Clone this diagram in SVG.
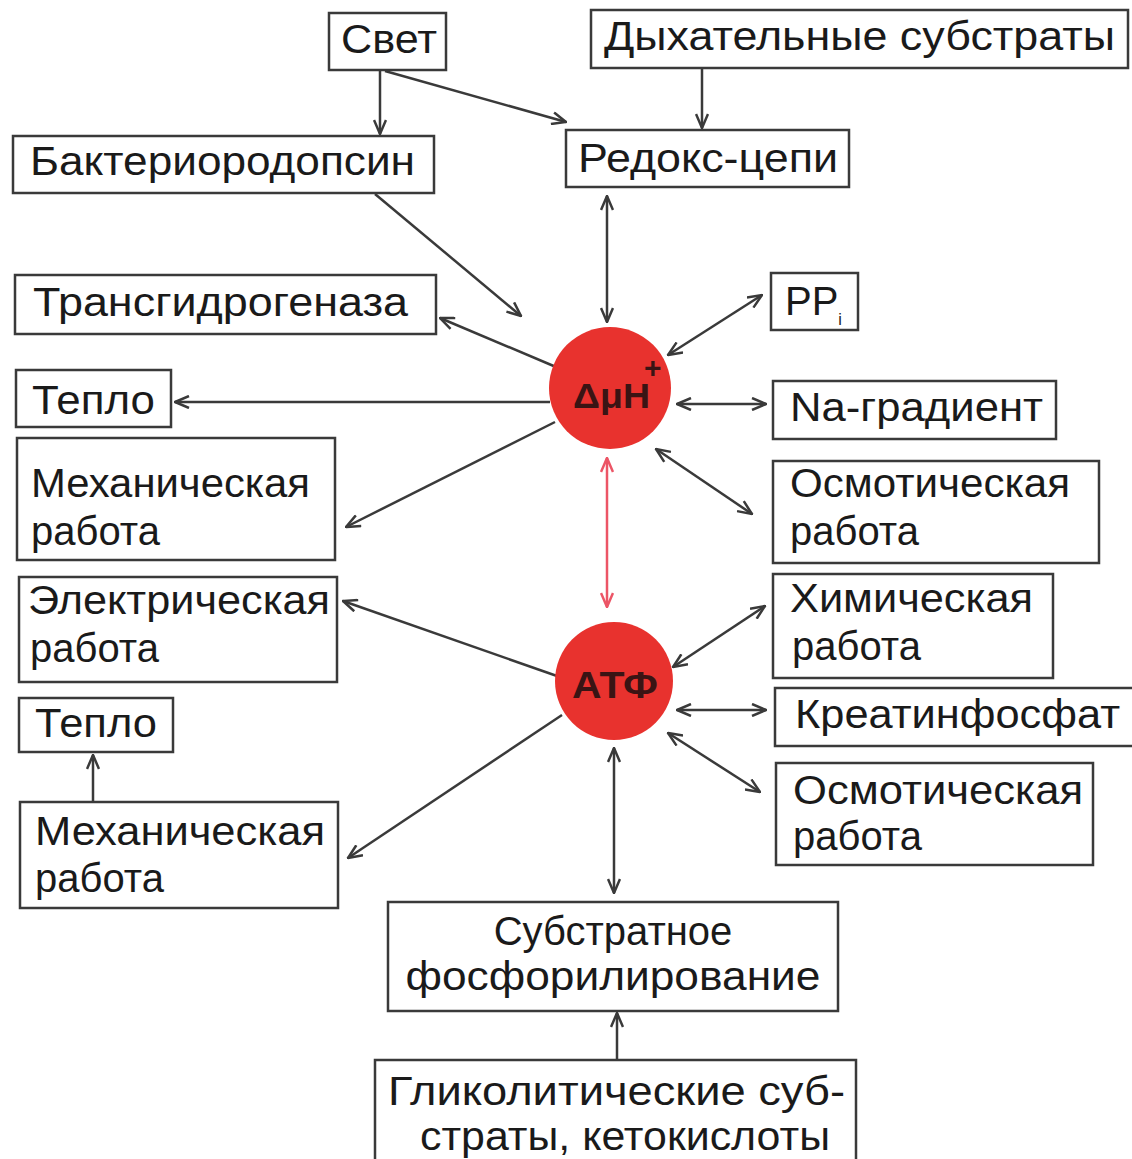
<svg xmlns="http://www.w3.org/2000/svg" width="1132" height="1159" viewBox="0 0 1132 1159">
<defs>
<style>
.box{fill:#fff;stroke:#3a3a3a;stroke-width:2.5}
.t{font-family:"Liberation Sans",Arial,sans-serif;font-size:40px;fill:#1a1a1a}
.c{fill:none;stroke:#3a3a3a;stroke-width:2.5}
.r{fill:none;stroke:#ec5566;stroke-width:2.5}
.node{fill:#e8322e}
.nt{font-family:"Liberation Sans",Arial,sans-serif;font-weight:bold;fill:#3a1414}
</style>
<marker id="a" viewBox="0 0 16 14" refX="15" refY="7" markerWidth="16" markerHeight="14" markerUnits="userSpaceOnUse" orient="auto-start-reverse">
<path d="M1,1 L15,7 L1,13" fill="none" stroke="#3a3a3a" stroke-width="2.5"/>
</marker>
<marker id="ar" viewBox="0 0 16 14" refX="15" refY="7" markerWidth="16" markerHeight="14" markerUnits="userSpaceOnUse" orient="auto-start-reverse">
<path d="M1,1 L15,7 L1,13" fill="none" stroke="#ec5566" stroke-width="2.5"/>
</marker>
</defs>
<rect width="1132" height="1159" fill="#fff"/>

<g id="connectors">
<path class="c" d="M380,71 L380,134" marker-end="url(#a)"/>
<path class="c" d="M385,71 L566,122" marker-end="url(#a)"/>
<path class="c" d="M702,69 L702,128" marker-end="url(#a)"/>
<path class="c" d="M375,194 L521,316" marker-end="url(#a)"/>
<path class="c" d="M607,196 L607,322" marker-start="url(#a)" marker-end="url(#a)"/>
<path class="c" d="M556,367 L440,318" marker-end="url(#a)"/>
<path class="c" d="M550,402 L175,402" marker-end="url(#a)"/>
<path class="c" d="M555,422 L346,527" marker-end="url(#a)"/>
<path class="c" d="M668,355 L762,295" marker-start="url(#a)" marker-end="url(#a)"/>
<path class="c" d="M677,404 L766,404" marker-start="url(#a)" marker-end="url(#a)"/>
<path class="c" d="M656,449 L752,514" marker-start="url(#a)" marker-end="url(#a)"/>
<path class="r" d="M607,458 L607,607" marker-start="url(#ar)" marker-end="url(#ar)"/>
<path class="c" d="M557,676 L343,601" marker-end="url(#a)"/>
<path class="c" d="M562,715 L348,858" marker-end="url(#a)"/>
<path class="c" d="M673,667 L765,606" marker-start="url(#a)" marker-end="url(#a)"/>
<path class="c" d="M677,710 L766,710" marker-start="url(#a)" marker-end="url(#a)"/>
<path class="c" d="M668,733 L760,792" marker-start="url(#a)" marker-end="url(#a)"/>
<path class="c" d="M614,748 L614,893" marker-start="url(#a)" marker-end="url(#a)"/>
<path class="c" d="M93,802 L93,755" marker-end="url(#a)"/>
<path class="c" d="M617,1060 L617,1013" marker-end="url(#a)"/>
</g>

<g id="svet"><rect class="box" x="329" y="13" width="117" height="57"/><text class="t" x="341" y="53" textLength="96" lengthAdjust="spacingAndGlyphs">Свет</text></g>
<g id="dykh"><rect class="box" x="591" y="10" width="537" height="58"/><text class="t" x="604" y="50" textLength="511" lengthAdjust="spacingAndGlyphs">Дыхательные  субстраты</text></g>
<g id="bakt"><rect class="box" x="13" y="136" width="421" height="57"/><text class="t" x="30" y="175" textLength="385" lengthAdjust="spacingAndGlyphs">Бактериородопсин</text></g>
<g id="redoks"><rect class="box" x="566" y="130" width="283" height="57"/><text class="t" x="578" y="172" textLength="260" lengthAdjust="spacingAndGlyphs">Редокс-цепи</text></g>
<g id="trans"><rect class="box" x="15" y="275" width="421" height="59"/><text class="t" x="33" y="316" textLength="375" lengthAdjust="spacingAndGlyphs">Трансгидрогеназа</text></g>
<g id="ppi"><rect class="box" x="771" y="273" width="87" height="57"/><text class="t" x="785" y="315">PP<tspan font-size="16" dy="10">i</tspan></text></g>
<g id="teplo1"><rect class="box" x="16" y="370" width="155" height="57"/><text class="t" x="32" y="414" textLength="123" lengthAdjust="spacingAndGlyphs">Тепло</text></g>
<g id="na"><rect class="box" x="773" y="381" width="283" height="58"/><text class="t" x="790" y="421" textLength="253" lengthAdjust="spacingAndGlyphs">Na-градиент</text></g>
<g id="mekh1"><rect class="box" x="17" y="438" width="318" height="122"/><text class="t" x="31" y="497" textLength="279" lengthAdjust="spacingAndGlyphs">Механическая</text><text class="t" x="31" y="545">работа</text></g>
<g id="osm1"><rect class="box" x="773" y="461" width="326" height="102"/><text class="t" x="790" y="497" textLength="280" lengthAdjust="spacingAndGlyphs">Осмотическая</text><text class="t" x="790" y="545">работа</text></g>
<g id="elek"><rect class="box" x="19" y="577" width="318" height="105"/><text class="t" x="28" y="614" textLength="302" lengthAdjust="spacingAndGlyphs">Электрическая</text><text class="t" x="30" y="662">работа</text></g>
<g id="khim"><rect class="box" x="773" y="574" width="280" height="104"/><text class="t" x="790" y="612" textLength="243" lengthAdjust="spacingAndGlyphs">Химическая</text><text class="t" x="792" y="660">работа</text></g>
<g id="teplo2"><rect class="box" x="19" y="698" width="154" height="54"/><text class="t" x="35" y="737" textLength="122" lengthAdjust="spacingAndGlyphs">Тепло</text></g>
<g id="kreat"><rect class="box" x="775" y="688" width="362" height="58"/><text class="t" x="795" y="728" textLength="325" lengthAdjust="spacingAndGlyphs">Креатинфосфат</text></g>
<g id="mekh2"><rect class="box" x="20" y="802" width="318" height="106"/><text class="t" x="35" y="845" textLength="290" lengthAdjust="spacingAndGlyphs">Механическая</text><text class="t" x="35" y="892">работа</text></g>
<g id="osm2"><rect class="box" x="776" y="763" width="317" height="102"/><text class="t" x="793" y="804" textLength="290" lengthAdjust="spacingAndGlyphs">Осмотическая</text><text class="t" x="793" y="850">работа</text></g>
<g id="substr"><rect class="box" x="388" y="902" width="450" height="109"/><text class="t" x="613" y="945" text-anchor="middle">Субстратное</text><text class="t" x="613" y="990" text-anchor="middle" textLength="415" lengthAdjust="spacingAndGlyphs">фосфорилирование</text></g>
<g id="glik"><rect class="box" x="375" y="1060" width="481" height="110"/><text class="t" x="388" y="1105" textLength="457" lengthAdjust="spacingAndGlyphs">Гликолитические  суб-</text><text class="t" x="420" y="1150" textLength="410" lengthAdjust="spacingAndGlyphs">страты,  кетокислоты</text></g>

<g id="dmuH"><circle class="node" cx="610" cy="388" r="61"/><text class="nt" x="573" y="408" font-size="35" textLength="77" lengthAdjust="spacingAndGlyphs">ΔμH</text><text class="nt" x="644" y="378" font-size="30">+</text></g>
<g id="atf"><circle class="node" cx="614" cy="681" r="59"/><text class="nt" x="615" y="698" font-size="36" text-anchor="middle" textLength="86" lengthAdjust="spacingAndGlyphs">АТФ</text></g>
</svg>
